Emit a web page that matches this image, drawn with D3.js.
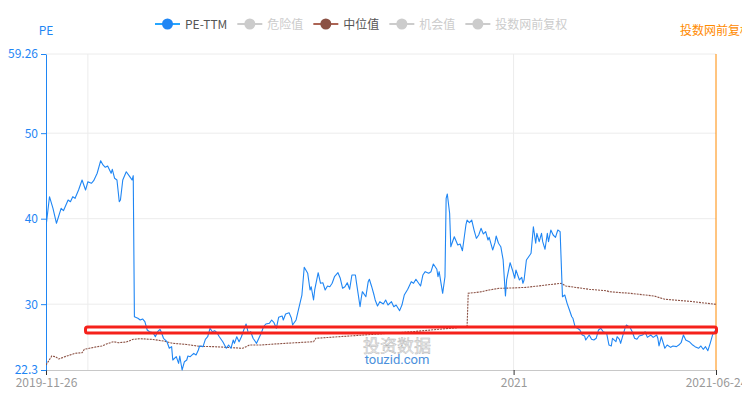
<!DOCTYPE html>
<html>
<head>
<meta charset="utf-8">
<script src="https://cdn.jsdelivr.net/npm/d3@7/dist/d3.min.js"></script>
<style>
  body { margin: 0; background: #fff; }
  svg { display: block; font-family: "Noto Sans CJK SC", "Noto Sans", sans-serif; }
</style>
</head>
<body>
<svg id="chart" width="742" height="399"></svg>
<script>
// time range of the chart
var startDate = "2019-11-26";
var endDate = "2021-06-24";

// PE-TTM: days after startDate, and the values
var peDays = [0,3,6,9,13,15,19,21,23,25,28,31,34,36,39,41,44,47,49,51,53,56,57,59,61,63,64,66,69,72,74,75,
  76,79,81,83,85,87,89,92,94,96,98,99,101,104,106,108,109,112,114,115,117,119,121,122,124,127,129,131,132,135,
  137,139,141,143,145,147,149,152,155,157,159,161,162,164,166,168,170,172,174,176,178,181,183,185,187,189,192,
  194,196,198,200,203,204,206,209,211,212,215,217,220,222,225,227,228,230,231,234,236,238,240,242,244,246,248,
  251,253,255,257,259,261,263,266,267,270,271,272,275,277,278,280,282,283,285,287,290,292,294,297,299,301,304,
  306,308,311,314,316,318,322,324,326,329,331,333,336,337,338,341,343,344,345,347,348,351,354,356,358,361,362,
  364,366,368,370,372,374,376,378,380,381,384,386,387,389,391,393,395,396,399,401,403,404,407,409,410,411,413,
  416,417,419,421,422,424,426,427,429,431,432,434,436,438,440,442,444,446,448,450,452,453,455,457,459,461,463,
  464,467,469,471,473,475,477,479,482,484,486,487,490,491,493,494,496,498,499,502,504,506,508,510,513,515,517,
  520,522,525,526,527,529,530,532,534,537,539,542,544,546,548,550,553,556,558,561,563,565,567,569,571,573,576];
var peValues = [39.06,42.57,41.21,39.46,41.21,40.93,42.18,41.98,42.57,42.38,43.35,44.52,43.35,44.32,44.14,44.44,
  45.31,46.78,46.28,46.01,46.16,45.31,45.77,44.72,44.52,41.98,42.18,44.52,45.49,44.91,44.52,45.03,
  28.53,28.35,28.15,28.27,27.95,26.98,26.78,26.66,26.19,26.78,27.06,26.78,26.01,25.61,24.84,25.03,23.47,23.86,
  23.08,23.94,22.30,23.27,23.47,23.94,23.86,24.25,24.05,24.64,25.11,25.03,
  25.89,26.19,27.18,26.78,26.90,26.66,26.19,25.61,24.84,25.22,24.84,25.81,25.42,26.19,25.61,26.19,26.98,27.68,
  26.59,26.78,26.01,25.42,26.01,26.59,27.36,27.68,27.76,
  28.15,27.83,27.18,28.46,28.62,28.15,28.85,29.00,28.35,27.56,28.15,29.32,31.07,34.31,33.61,31.66,32.04,30.49,
  31.66,33.68,32.44,32.51,31.66,32.12,32.04,32.44,33.21,
  33.68,33.03,31.86,32.04,32.51,31.74,33.41,33.41,32.44,29.70,30.69,31.46,30.87,32.63,32.91,32.04,31.07,30.49,
  29.79,30.29,30.02,30.49,29.90,30.29,29.70,29.90,29.24,
  29.90,31.07,31.74,32.63,32.44,32.91,32.12,33.41,33.80,33.61,33.80,34.70,34.08,33.21,33.80,31.27,33.21,42.38,
  42.89,40.63,36.72,37.89,36.92,37.04,36.25,39.26,39.84,
  39.53,39.84,38.67,37.70,38.09,38.87,38.21,38.48,37.50,37.82,36.34,37.19,37.97,37.12,36.72,35.17,30.95,32.83,
  34.85,34.00,33.03,34.00,32.83,33.14,32.44,32.83,35.17,
  35.75,35.95,39.06,37.12,38.29,37.31,38.29,37.31,36.42,38.29,37.31,38.67,38.09,37.82,38.67,38.48,30.87,31.07,
  30.10,29.32,28.53,28.35,27.29,27.18,26.98,26.39,26.28,
  25.81,26.39,25.89,25.81,26.01,26.98,27.18,26.78,26.59,25.22,25.11,26.01,25.61,26.19,25.89,25.42,26.39,27.29,
  27.56,27.29,26.78,26.01,25.89,26.28,26.39,26.78,26.12,
  26.39,26.12,26.39,26.01,25.11,26.19,25.73,24.84,25.22,24.95,25.11,25.03,25.22,25.49,26.39,25.81,25.61,25.22,
  25.03,24.84,25.11,24.72,25.03,24.56,25.42,26.39,27.06];

// 中位值: days after startDate, and the values
var medDays = [0,5,8,11,18,25,31,33,41,48,52,58,62,69,75,81,92,101,109,121,132,144,155,169,175,184,201,230,232,
  273,315,362,363,373,381,390,401,413,430,443,447,467,482,484,502,523,532,553,576];
var medValues = [22.88,23.94,23.86,23.59,23.94,24.25,24.32,24.72,24.95,25.11,25.34,25.61,25.49,25.57,25.89,25.96,
  25.87,25.69,25.42,25.28,25.07,25.03,24.95,24.84,25.22,25.22,25.38,25.61,26.01,26.39,26.78,27.36,31.27,31.42,
  31.66,31.86,31.89,31.97,32.24,32.44,32.12,31.74,31.57,31.46,31.27,30.95,30.57,30.34,29.98];

var yMin = 22.3, yMax = 59.26;
var yTicks = [59.26, 50, 40, 30, 22.3];
var xGridDates = ["2020-01-01", "2021-01-01"];
var xTickDates = ["2019-11-26", "2021-01-01", "2021-06-24"];
var xTickLabels = ["2019-11-26", "2021", "2021-06-24"];

var legendNames = ["PE-TTM", "危险值", "中位值", "机会值", "投数网前复权"];
var legendColors = ["#1f86f4", "#cccccc", "#8b5144", "#cccccc", "#cccccc"];
var legendOn = [true, false, true, false, false];

var leftAxisName = "PE";
var rightAxisName = "投数网前复权";

var blue = "#1f86f4", orange = "#ff8a00";
var margin = { top: 54, right: 26, bottom: 29, left: 46 };
var width = 742, height = 399;

var parse = d3.timeParse("%Y-%m-%d");
var t0 = parse(startDate);

var svg = d3.select("#chart");

var x = d3.scaleTime()
    .domain([t0, parse(endDate)])
    .range([margin.left, width - margin.right]);

var y = d3.scaleLinear()
    .domain([yMin, yMax])
    .range([height - margin.bottom, margin.top]);

var x0 = margin.left, x1 = width - margin.right;
var yb = height - margin.bottom, yt = margin.top;

// horizontal grid
svg.append("g").selectAll("line")
    .data(yTicks.filter(function (d) { return d !== yMin; }))
    .enter().append("line")
    .attr("x1", x0).attr("x2", x1)
    .attr("y1", function (d) { return y(d); })
    .attr("y2", function (d) { return y(d); })
    .attr("stroke", "#ececec");

// vertical grid
svg.append("g").selectAll("line")
    .data(xGridDates)
    .enter().append("line")
    .attr("x1", function (d) { return x(parse(d)); })
    .attr("x2", function (d) { return x(parse(d)); })
    .attr("y1", yt).attr("y2", yb)
    .attr("stroke", "#ececec");

// watermark
svg.append("text")
    .attr("x", 397).attr("y", 352)
    .attr("text-anchor", "middle")
    .attr("font-size", 17)
    .attr("fill", "#e8e8e8")
    .attr("stroke", "#b4b4b4")
    .attr("stroke-width", 0.4)
    .text("投资数据");
svg.append("text")
    .attr("x", 397).attr("y", 364)
    .attr("text-anchor", "middle")
    .attr("font-size", 13)
    .attr("fill", "#4a90dc")
    .attr("font-family", "Roboto, 'Noto Sans', sans-serif")
    .text("touzid.com");

// x axis
var xAxis = d3.axisBottom(x)
    .tickValues(xTickDates.map(parse))
    .tickFormat(function (d, i) { return xTickLabels[i]; })
    .tickSize(5)
    .tickPadding(3);

var gx = svg.append("g")
    .attr("transform", "translate(0," + yb + ")")
    .call(xAxis);
gx.select(".domain").attr("stroke", "#c8c8c8");
gx.selectAll(".tick line").attr("stroke", "#333");
gx.selectAll(".tick text").attr("fill", "#999").attr("font-size", 12)
    .attr("font-family", "'Noto Sans CJK SC', 'Noto Sans', sans-serif");

// left axis
var yAxis = d3.axisLeft(y)
    .tickValues(yTicks)
    .tickFormat(function (d) { return String(d); })
    .tickSize(5)
    .tickSizeOuter(0)
    .tickPadding(3);
var gy = svg.append("g")
    .attr("transform", "translate(" + x0 + ",0)")
    .call(yAxis);
gy.select(".domain").attr("stroke", blue);
gy.selectAll(".tick line").attr("stroke", blue);
gy.selectAll(".tick text").attr("fill", blue).attr("font-size", 12)
    .attr("font-family", "'Noto Sans CJK SC', 'Noto Sans', sans-serif");

// right axis
svg.append("line")
    .attr("x1", x1).attr("x2", x1)
    .attr("y1", yt).attr("y2", yb)
    .attr("stroke", orange);

svg.append("text")
    .attr("x", x0).attr("y", 35)
    .attr("text-anchor", "middle")
    .attr("font-size", 12)
    .attr("fill", blue)
    .text(leftAxisName);
svg.append("text")
    .attr("x", x1).attr("y", 35)
    .attr("text-anchor", "middle")
    .attr("font-size", 12)
    .attr("fill", orange)
    .text(rightAxisName);

// clip
svg.append("clipPath").attr("id", "plot")
    .append("rect")
    .attr("x", x0).attr("y", yt - 2)
    .attr("width", x1 - x0).attr("height", yb - yt + 4);

var line = d3.line()
    .x(function (d) { return x(d3.timeDay.offset(t0, d[0])); })
    .y(function (d) { return y(d[1]); });

var medData = medDays.map(function (d, i) { return [d, medValues[i]]; });
var peData = peDays.map(function (d, i) { return [d, peValues[i]]; });

svg.append("path")
    .datum(medData)
    .attr("clip-path", "url(#plot)")
    .attr("d", line)
    .attr("fill", "none")
    .attr("stroke", "#8b5144")
    .attr("stroke-width", 1.1)
    .attr("stroke-dasharray", "2,1");

svg.append("path")
    .datum(peData)
    .attr("clip-path", "url(#plot)")
    .attr("d", line)
    .attr("fill", "none")
    .attr("stroke", blue)
    .attr("stroke-width", 1.1)
    .attr("stroke-linejoin", "round");

// red highlight box
svg.append("rect")
    .attr("x", 85.5).attr("y", 327)
    .attr("width", 631).attr("height", 6)
    .attr("rx", 2)
    .attr("fill", "none")
    .attr("stroke", "#f5211b")
    .attr("stroke-width", 3);

// legend
var lg = svg.append("g").attr("font-size", 12);
var lx = 155;
legendNames.forEach(function (name, i) {
    var item = lg.append("g").attr("transform", "translate(" + lx + ",24)");
    item.append("line")
        .attr("x1", 0).attr("x2", 25)
        .attr("stroke", legendOn[i] ? d3.color(legendColors[i]).brighter(0.6) : legendColors[i])
        .attr("stroke-width", 2);
    item.append("circle")
        .attr("cx", 12.5).attr("r", 5.5)
        .attr("fill", legendColors[i]);
    var t = item.append("text")
        .attr("x", 30).attr("y", 4.5)
        .attr("fill", legendOn[i] ? "#555" : "#cccccc")
        .text(name);
    lx += 30 + t.node().getComputedTextLength() + 10;
});
</script>
</body>
</html>
